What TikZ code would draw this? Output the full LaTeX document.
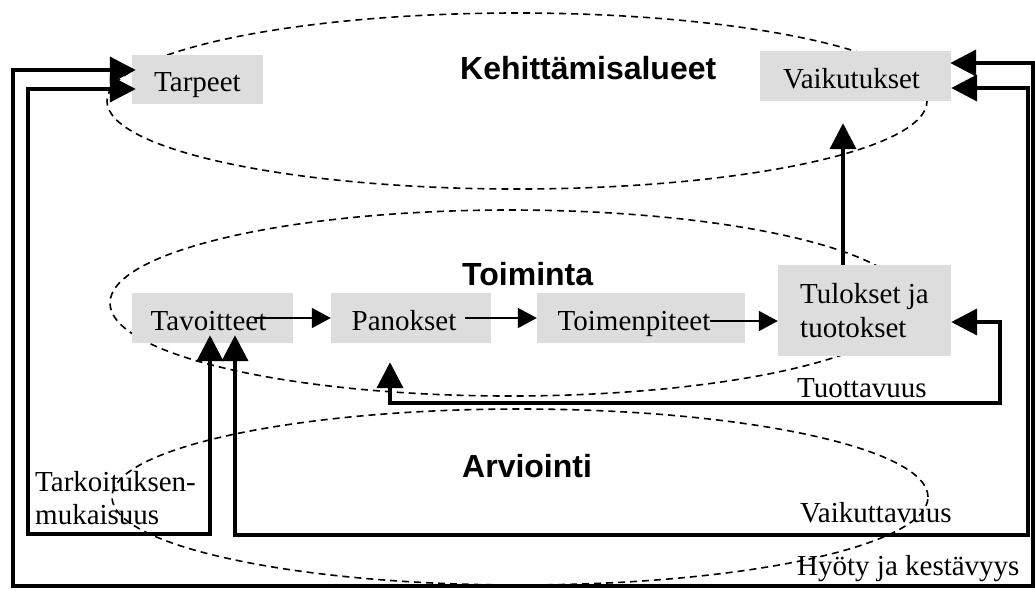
\documentclass[tikz,border=0pt]{standalone}
\usepackage{fontspec}
\setmainfont{Liberation Serif}
\newfontfamily\labelsans{Liberation Sans}
\usetikzlibrary{arrows.meta,shapes.geometric}
\definecolor{boxgray}{RGB}{221,221,221}
\begin{document}
\begin{tikzpicture}[x=1pt,y=-1pt,
  every node/.style={font=\fontsize{29}{33.5}\selectfont, inner sep=0pt},
  boxnode/.style={fill=boxgray, text height=24pt, text depth=0pt},
  region/.style={draw, dash pattern=on 7pt off 5pt, line width=1.6pt, ellipse, inner sep=0pt},
  titletext/.style={font=\labelsans\bfseries\fontsize{32}{36}\selectfont, anchor=base west},
  lbl/.style={anchor=base west, align=left},
  flow/.style={line width=1.7pt, -{Triangle[length=19pt,width=20pt]}},
  twoway/.style={line width=4pt, {Triangle[length=26pt,width=26pt]}-{Triangle[length=26pt,width=26pt]}},
  upward/.style={line width=4pt, -{Triangle[length=26pt,width=26pt]}},
]
\useasboundingbox (0,0) rectangle (1035,590);

% regions
\node[region, minimum width=820pt, minimum height=176pt] (kehitys) at (517,101) {};
\node[region, minimum width=800pt, minimum height=186pt] (toiminta) at (510,303) {};
\node[region, minimum width=816pt, minimum height=176pt] (arviointi) at (520,497) {};

% region titles
\node[titletext] (kehtitle) at (460,79) {Kehittämisalueet};
\node[titletext] (toimtitle) at (462,285) {Toiminta};
\node[titletext] (arvtitle) at (462,477) {Arviointi};

% boxes
\node[boxnode, minimum width=131pt, minimum height=49pt] (tarpeet) at (197.5,79.5) {Tarpeet};
\node[boxnode, minimum width=191pt, minimum height=50pt] (vaikutukset) at (855.5,76) {Vaikutukset\hspace*{8pt}};
\node[boxnode, minimum width=161pt, minimum height=50pt] (tavoitteet) at (212.5,318) {Tavoitteet\hspace*{8pt}};
\node[boxnode, minimum width=160pt, minimum height=50pt] (panokset) at (411,318) {Panokset\hspace*{14pt}};
\node[boxnode, minimum width=208pt, minimum height=50pt] (toimenpiteet) at (641,318) {Toimenpiteet\hspace*{14pt}};
\node[fill=boxgray, minimum width=173pt, minimum height=91pt, align=left] (tulokset) at (864.5,310.5) {Tulokset ja\\tuotokset};

% labels
\node[lbl] (tuott) at (797,397) {Tuottavuus};
\node[lbl] (vaikutt) at (800,522) {Vaikuttavuus};
\node[lbl] (hyoty) at (797,575) {Hyöty ja kestävyys};
\node[anchor=west, align=left] (tarkoit) at (35,498) {Tarkoituksen-\\mukaisuus};

% corners
\coordinate (tuottcorner) at (1000,403);
\coordinate (vaikcorner) at (1028,535);
\coordinate (tarkcorner) at (28,534);
\coordinate (hyotyleft) at (13,586);
\coordinate (hyotyright) at (1033,586);

% flow arrows
\draw[flow] ([xshift=-38pt]tavoitteet.east) -- (panokset.west);
\draw[flow] ([xshift=-26pt]panokset.east) -- (toimenpiteet.west);
\draw[flow] ([xshift=-35pt,yshift=-3pt]toimenpiteet.east) -- ([yshift=-3pt]tulokset.west |- toimenpiteet.east);

% thick connectors
\draw[upward, shorten >=22pt] ([xshift=-21.5pt]tulokset.north) -- ([xshift=-21.5pt]tulokset.north |- vaikutukset.south);
\draw[twoway, shorten >=19pt] ([yshift=-11.5pt]tulokset.east) -| (tuottcorner) -| ([xshift=-21pt]panokset.south);
\draw[twoway, shorten <=-8pt] ([xshift=22.5pt]tavoitteet.south) |- (vaikcorner) |- ([yshift=-12pt]vaikutukset.east);
\draw[twoway, shorten <=-8pt, shorten >=-4pt] ([xshift=-2.5pt]tavoitteet.south) |- (tarkcorner) |- ([yshift=-9.5pt]tarpeet.west);
\draw[twoway, shorten >=-1pt, shorten <=-4pt] ([yshift=9.5pt]tarpeet.west) -| (hyotyleft) -- (hyotyright) |- ([yshift=13pt]vaikutukset.east);
\end{tikzpicture}
\end{document}
